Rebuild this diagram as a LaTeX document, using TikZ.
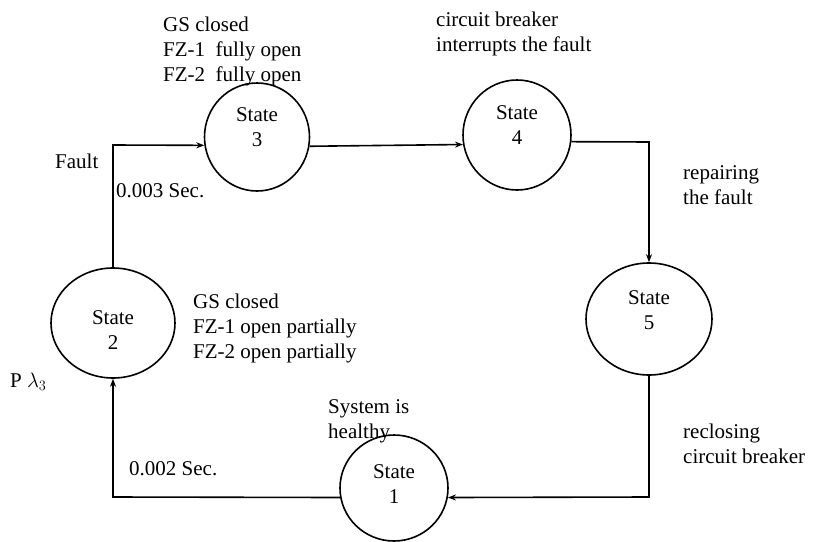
\documentclass[tikz,border=0pt]{standalone}
\usepackage{fontspec}
\setmainfont{Liberation Serif}
\usetikzlibrary{shapes.geometric,arrows.meta}
\tikzset{
  statebox/.style={draw, ellipse, line width=1.6pt, inner sep=0pt},
  statetext/.style={align=center, inner sep=0pt, font=\fontsize{21}{25}\selectfont},
  % base anchor of a multi-line note sits on its last line
  note/.style={align=left, anchor=base west, inner sep=0pt, font=\fontsize{21}{25}\selectfont},
  flow/.style={line width=1.6pt, -{Stealth[length=8pt,width=6pt]}},
}
\begin{document}
\begin{tikzpicture}[x=1pt,y=-1pt]
\useasboundingbox (0,0) rectangle (814,541);
% states
\node[statebox, minimum width=124pt, minimum height=110pt] (s2) at (113,323) {};
\node[statebox, minimum width=105pt, minimum height=108pt] (s3) at (257,137) {};
\node[statebox, minimum width=108pt, minimum height=110pt] (s4) at (517,135) {};
\node[statebox, minimum width=126pt, minimum height=112pt] (s5) at (649,319) {};
\node[statebox, minimum width=108pt, minimum height=106pt] (s1) at (394,488) {};
\node[statetext] (t2) at (113,330) {State\\2};
\node[statetext] (t3) at (257,127) {State\\3};
\node[statetext] (t4) at (517,125) {State\\4};
\node[statetext] (t5) at (649,310) {State\\5};
\node[statetext] (t1) at (394,484) {State\\1};
% transitions
\coordinate (c12) at (113,497);
\coordinate (c23) at (113,145);
\coordinate (c45) at (649,142);
\coordinate (c51) at (649,497);
\draw[flow] (s1.190) -- (c12) -- (s2.south);
\draw[flow] (s2.north) -- (c23) -- (s3.189);
\draw[flow] (s3.350) -- (s4.190);
\draw[flow] (s4.353) -- (c45) -- (s5.north);
\draw[flow] (s5.south) -- (c51) -- (s1.350);
% annotations
\node[note] (n3) at (163,81) {GS closed\\FZ-1\ \ fully open\\FZ-2\ \ fully open};
\node[note] (n4) at (436,51) {circuit breaker\\interrupts the fault};
\node[note] (nf) at (55,168) {Fault};
\node[note] (nt3) at (116,197) {0.003 Sec.};
\node[note] (nr) at (683,204) {repairing\\the fault};
\node[note] (n2) at (193,358) {GS closed\\FZ-1 open partially\\FZ-2 open partially};
\node[note] (np) at (10,387) {P $\lambda_3$};
\node[note] (nh) at (328,438) {System is\\healthy};
\node[note] (nt2) at (129,475) {0.002 Sec.};
\node[note] (nc) at (683,463) {reclosing\\circuit breaker};
\end{tikzpicture}
\end{document}
